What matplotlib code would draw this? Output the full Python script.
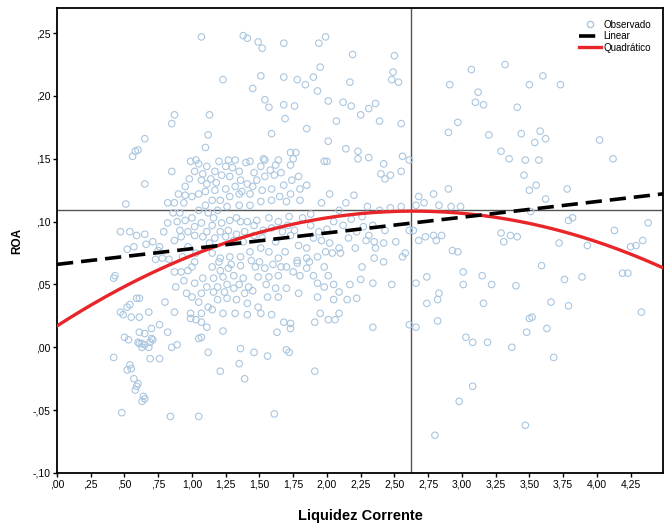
import numpy as np
import matplotlib
matplotlib.use("Agg")
import matplotlib.pyplot as plt
from matplotlib.lines import Line2D

plt.rcParams['font.family'] = ['Liberation Sans', 'DejaVu Sans']

liquidez = [
    1.07, 0.87, 0.85, 0.65, 0.58, 0.56, 0.60, 1.13, 1.12, 1.10, 0.99, 1.03,
    1.38, 1.41, 1.49, 1.52, 1.68, 1.94, 1.99, 2.19, 1.95, 1.23, 1.51, 1.68,
    1.78, 1.84, 1.90, 1.45, 1.93, 2.17, 1.54, 1.57, 1.68, 1.76, 2.01, 2.12,
    2.18, 2.25, 1.69, 1.85, 2.07, 1.59, 2.01, 2.14, 2.23, 2.23,
    1.20, 1.27, 1.32, 1.43, 1.53, 1.54, 1.64, 1.73, 1.77, 1.75, 2.00,
    2.50, 2.49, 2.48, 2.53, 2.36, 2.31, 2.39, 2.55, 2.31, 2.42, 2.56,
    2.61, 3.07, 3.32, 2.91, 3.12, 3.10, 3.16, 2.97, 2.90, 3.20, 3.29, 3.35,
    3.60, 3.50, 3.73, 3.41, 3.44, 3.58, 3.62, 3.54, 4.02, 3.47, 3.57, 4.12,
    0.85, 0.65, 0.51, 0.47, 0.54, 0.65, 0.59, 0.71, 0.66, 0.57, 0.52, 0.76, 0.75, 0.73,
    0.78, 0.42, 0.43, 0.87, 0.59, 0.61, 0.52, 0.54, 0.47, 0.49, 0.55, 0.61, 0.87,
    0.95, 0.90, 0.95, 1.00, 1.05, 1.10, 1.11, 1.07, 1.08, 1.02, 1.11, 0.82, 0.87, 0.94,
    0.91, 0.86, 0.82, 0.89, 0.95, 1.00, 1.02, 1.07, 1.11, 1.08, 1.02, 0.97, 0.91, 0.87, 0.92,
    1.05, 1.10, 1.12, 1.02, 0.97, 1.08, 1.02, 0.96, 1.00, 1.07, 1.11, 1.05, 0.99, 1.12, 1.07,
    1.25, 1.17, 1.22, 1.14, 1.28, 1.35, 1.36, 1.51, 1.58, 1.61, 1.54, 1.48, 1.41,
    1.32, 1.25, 1.17, 1.15, 1.21, 1.28, 1.37, 1.43, 1.52, 1.59, 1.68, 1.74, 1.79, 1.73, 1.80,
    1.85, 1.73, 1.65, 1.59, 1.51, 1.43, 1.35, 1.26, 1.19, 1.98, 2.02, 1.96, 2.20, 1.80, 1.70,
    1.16, 1.15, 1.22, 1.28, 1.33, 1.36, 1.41, 1.48, 1.57, 1.64, 1.72, 1.21, 1.17, 1.25, 1.31,
    1.38, 1.46, 1.53, 1.59, 1.67, 1.73, 1.79, 1.85, 1.90, 1.96, 2.02, 2.09, 2.16, 2.22, 2.21,
    2.10, 2.04, 1.99, 1.93, 1.85, 1.78, 1.69, 1.64, 1.57, 1.51, 1.43, 1.36, 1.28, 1.21, 1.15,
    1.15, 1.21, 1.27, 1.16, 1.23, 1.31, 1.38, 1.19, 1.26, 1.35, 1.42, 1.47, 1.54, 1.49, 1.57,
    1.64, 1.70, 1.78, 1.85, 1.80, 1.90, 1.98, 2.01, 1.93, 2.05, 1.98, 2.09, 2.17, 2.22, 2.15,
    2.05, 2.09, 1.95, 1.93, 1.79, 1.70, 1.64, 1.56, 1.49, 1.41, 1.33, 1.26, 1.19, 1.15,
    1.23, 1.32, 1.41, 1.51, 1.59,
    2.40, 2.43, 2.47, 2.55, 2.90, 2.79, 2.68, 2.72, 2.83, 2.92, 2.99, 2.66,
    2.47, 2.55, 2.39, 2.27, 2.34, 2.43, 2.61, 2.64, 2.29, 2.35, 2.31, 2.42, 2.51, 2.36,
    2.68, 2.73, 2.79, 2.81, 2.85, 2.93, 2.97, 3.29, 3.36, 3.31, 2.56, 2.58, 2.35, 2.42, 2.26,
    2.25, 2.34, 2.48, 2.66, 2.74, 3.01, 3.01, 3.15, 3.22, 2.83, 2.82, 2.74, 3.16,
    3.46, 3.50, 3.55, 3.62, 3.78, 3.51, 3.79, 3.82, 4.38, 4.13, 4.34, 4.25, 4.29,
    3.41, 3.72, 3.93, 3.59, 3.76, 3.89, 3.40, 4.19, 4.23, 3.66, 3.79, 4.33, 3.50, 3.52,
    0.50, 0.53, 0.61, 0.65, 0.70, 0.71, 0.60, 0.63, 0.65, 0.68, 0.69, 0.63, 0.61,
    0.82, 0.85, 0.89, 0.99, 1.03, 1.07, 1.11, 1.07, 1.05, 1.12, 0.42, 0.69, 0.76, 0.54,
    0.55, 0.52, 0.57, 0.60, 0.59, 0.58, 0.64, 0.63, 0.65, 0.48, 0.84, 1.05,
    1.23, 1.68, 1.73, 1.73, 1.63, 1.91, 2.01, 2.06,
    1.36, 1.46, 1.56, 1.70, 1.72, 1.35, 1.21, 1.39, 1.91, 1.61,
    2.34, 2.61, 2.66, 2.82, 3.03, 3.08, 3.19, 3.37, 3.08, 2.98, 2.80,
    3.48, 3.63, 3.68, 3.47,
    # overlapping points in the dense middle of the cloud
    1.30, 1.40, 1.46, 1.62, 1.66, 1.45, 1.35, 1.18, 1.05, 0.98,
    1.27, 1.33, 1.39, 1.46, 1.52, 1.62, 1.71, 1.76, 1.88, 1.94,
    2.05, 2.12, 2.18, 2.26, 2.30, 2.09, 2.14, 1.88, 1.82, 2.00,
    1.20, 1.29, 1.36, 1.44, 1.50, 1.60, 1.66, 1.75, 1.87, 1.13,
    0.97, 1.03, 0.93, 1.16, 1.24, 1.31, 1.39, 1.45, 1.55, 1.62,
    0.70, 0.76, 0.68, 0.80, 0.92, 0.94, 1.00, 0.88, 0.83, 0.79,
]
roa = [
    0.247, 0.185, 0.178, 0.166, 0.156, 0.152, 0.157, 0.185, 0.169, 0.159, 0.148, 0.149,
    0.248, 0.246, 0.243, 0.238, 0.242, 0.242, 0.247, 0.233, 0.223, 0.213, 0.216, 0.215,
    0.213, 0.209, 0.215, 0.206, 0.204, 0.211, 0.197, 0.191, 0.193, 0.192, 0.196, 0.195,
    0.192, 0.185, 0.182, 0.174, 0.180, 0.170, 0.164, 0.158, 0.156, 0.150,
    0.148, 0.149, 0.149, 0.148, 0.150, 0.149, 0.149, 0.155, 0.155, 0.150, 0.148,
    0.232, 0.219, 0.213, 0.211, 0.194, 0.190, 0.180, 0.178, 0.151, 0.146, 0.152,
    0.149, 0.221, 0.225, 0.209, 0.203, 0.195, 0.193, 0.179, 0.171, 0.169, 0.156, 0.150,
    0.216, 0.209, 0.209, 0.191, 0.170, 0.172, 0.166, 0.163, 0.165, 0.149, 0.149, 0.150,
    0.140, 0.130, 0.114, 0.092, 0.092, 0.090, 0.089, 0.084, 0.082, 0.080, 0.078, 0.080, 0.077, 0.070,
    0.071, 0.055, 0.057, 0.060, 0.039, 0.039, 0.032, 0.034, 0.028, 0.026, 0.024, 0.024, 0.028,
    0.128, 0.122, 0.121, 0.120, 0.122, 0.124, 0.130, 0.133, 0.138, 0.140, 0.144, 0.115, 0.115, 0.115,
    0.107, 0.107, 0.099, 0.100, 0.101, 0.103, 0.096, 0.099, 0.092, 0.088, 0.089, 0.092, 0.093, 0.085, 0.088,
    0.109, 0.113, 0.107, 0.068, 0.061, 0.055, 0.051, 0.043, 0.040, 0.043, 0.048, 0.036, 0.027, 0.032, 0.027,
    0.144, 0.140, 0.137, 0.134, 0.136, 0.140, 0.133, 0.144, 0.141, 0.137, 0.136, 0.133, 0.130,
    0.128, 0.126, 0.125, 0.117, 0.117, 0.120, 0.124, 0.122, 0.125, 0.126, 0.129, 0.133, 0.136, 0.145, 0.126,
    0.129, 0.122, 0.120, 0.117, 0.116, 0.113, 0.113, 0.112, 0.109, 0.148, 0.122, 0.115, 0.121, 0.117, 0.116,
    0.103, 0.097, 0.099, 0.101, 0.103, 0.100, 0.100, 0.101, 0.103, 0.100, 0.104, 0.092, 0.087, 0.088, 0.085,
    0.084, 0.089, 0.093, 0.095, 0.092, 0.089, 0.081, 0.079, 0.087, 0.085, 0.083, 0.079, 0.087, 0.092, 0.079,
    0.075, 0.075, 0.076, 0.072, 0.071, 0.069, 0.076, 0.071, 0.076, 0.079, 0.076, 0.072, 0.072, 0.071, 0.075,
    0.064, 0.061, 0.063, 0.055, 0.056, 0.057, 0.055, 0.048, 0.050, 0.050, 0.048, 0.064, 0.063, 0.056, 0.056,
    0.057, 0.064, 0.067, 0.063, 0.057, 0.057, 0.064, 0.057, 0.051, 0.050, 0.048, 0.044, 0.050, 0.039, 0.038,
    0.038, 0.027, 0.027, 0.040, 0.043, 0.047, 0.040, 0.040, 0.032, 0.035, 0.038, 0.039, 0.038, 0.030,
    0.027, 0.027, 0.026, 0.027, 0.026,
    0.138, 0.134, 0.137, 0.140, 0.126, 0.122, 0.120, 0.115, 0.113, 0.112, 0.112, 0.113,
    0.111, 0.112, 0.109, 0.096, 0.097, 0.093, 0.093, 0.093, 0.085, 0.084, 0.089, 0.083, 0.084, 0.079,
    0.085, 0.088, 0.089, 0.085, 0.089, 0.077, 0.076, 0.091, 0.089, 0.084, 0.072, 0.075, 0.071, 0.068, 0.064,
    0.054, 0.051, 0.050, 0.051, 0.056, 0.060, 0.050, 0.057, 0.050, 0.043, 0.038, 0.035, 0.035,
    0.137, 0.125, 0.129, 0.118, 0.126, 0.108, 0.101, 0.103, 0.099, 0.093, 0.085, 0.080, 0.081,
    0.088, 0.083, 0.081, 0.065, 0.054, 0.056, 0.049, 0.059, 0.059, 0.036, 0.033, 0.028, 0.023, 0.024,
    0.008, 0.006, 0.012, 0.011, 0.007, 0.006, 0.004, 0.003, 0.002, 0.000, 0.004, 0.000, 0.003,
    0.012, 0.000, 0.002, 0.023, 0.022, 0.020, 0.016, 0.008, 0.007, -0.004, -0.008, -0.009, -0.009, -0.014,
    -0.017, -0.018, -0.025, -0.029, -0.031, -0.034, -0.039, -0.043, -0.041, -0.052, -0.055, -0.055,
    0.013, 0.020, 0.019, 0.015, 0.012, 0.020, 0.022, 0.022,
    -0.001, -0.004, -0.007, -0.002, -0.004, -0.013, -0.019, -0.025, -0.019, -0.053,
    0.016, 0.018, 0.016, 0.021, 0.008, 0.004, 0.004, 0.000, -0.031, -0.043, -0.070,
    0.012, 0.015, -0.008, -0.062,
    # overlapping points in the dense middle of the cloud
    0.143, 0.147, 0.139, 0.145, 0.139, 0.128, 0.122, 0.131, 0.146, 0.134,
    0.093, 0.090, 0.092, 0.097, 0.087, 0.084, 0.097, 0.093, 0.097, 0.092,
    0.100, 0.097, 0.102, 0.104, 0.112, 0.109, 0.115, 0.106, 0.103, 0.094,
    0.068, 0.066, 0.065, 0.069, 0.068, 0.066, 0.064, 0.060, 0.068, 0.083,
    0.080, 0.075, 0.072, 0.044, 0.044, 0.047, 0.043, 0.045, 0.050, 0.047,
    0.015, 0.018, 0.028, 0.036, 0.060, 0.053, 0.064, 0.048, 0.070, 0.092,
]

# fitted curves (coefficients)
linear_coef = [0.066, 0.0125]            # b0, b1
quad_coef = [0.017, 0.0693, -0.01314]    # b0, b1, b2

# reference lines (means)
mean_liquidez = 2.62
mean_roa = 0.109

x_ticks = [0.00, 0.25, 0.50, 0.75, 1.00, 1.25, 1.50, 1.75, 2.00, 2.25, 2.50,
           2.75, 3.00, 3.25, 3.50, 3.75, 4.00, 4.25]
x_tick_labels = [',00', ',25', ',50', ',75', '1,00', '1,25', '1,50', '1,75', '2,00',
                 '2,25', '2,50', '2,75', '3,00', '3,25', '3,50', '3,75', '4,00', '4,25']
y_ticks = [-0.10, -0.05, 0.00, 0.05, 0.10, 0.15, 0.20, 0.25]
y_tick_labels = ['-,10', '-,05', ',00', ',05', ',10', ',15', ',20', ',25']

fig = plt.figure(figsize=(6.65, 5.27), dpi=100)
ax = fig.add_axes([57 / 665, 1 - 473 / 527, 606 / 665, 465 / 527])

ax.scatter(liquidez, roa, s=22, facecolors='none', edgecolors='#aac6df',
           linewidths=0.8, zorder=2)

xs = np.linspace(0, 4.49, 200)
ax.plot(xs, linear_coef[0] + linear_coef[1] * xs, color='black', lw=2.6,
        dashes=(4.5, 2.2), zorder=4)
ax.plot(xs, quad_coef[0] + quad_coef[1] * xs + quad_coef[2] * xs ** 2,
        color='#e8262a', lw=2.4, zorder=3)

ax.axvline(mean_liquidez, color='#555555', lw=1.0, zorder=1)
ax.axhline(mean_roa, color='#555555', lw=1.0, zorder=1)

ax.set_xlim(0, 4.49)
ax.set_ylim(-0.10, 0.27)
ax.set_xticks(x_ticks)
ax.set_xticklabels(x_tick_labels, fontsize=7.5)
ax.set_yticks(y_ticks)
ax.set_yticklabels(y_tick_labels, fontsize=7.5)
ax.tick_params(direction='out', length=3, width=1, pad=2)
for sp in ax.spines.values():
    sp.set_linewidth(1.3)

ax.set_xlabel('Liquidez Corrente', fontsize=10.5, fontweight='bold', labelpad=14)
ax.set_ylabel('ROA', fontsize=8.5, fontweight='bold', labelpad=6)

handles = [
    Line2D([], [], ls='none', marker='o', mfc='none', mec='#aac6df', ms=4.5),
    Line2D([], [], color='black', lw=2.6, dashes=(4.5, 2.2)),
    Line2D([], [], color='#e8262a', lw=2.4),
]
ax.legend(handles, ['Observado', 'Linear', 'Quadrático'], loc='upper right',
          frameon=False, fontsize=7, handlelength=2.2, handletextpad=0.3,
          labelspacing=0.15, borderaxespad=0.8)

fig.savefig('out.png', dpi=100)
